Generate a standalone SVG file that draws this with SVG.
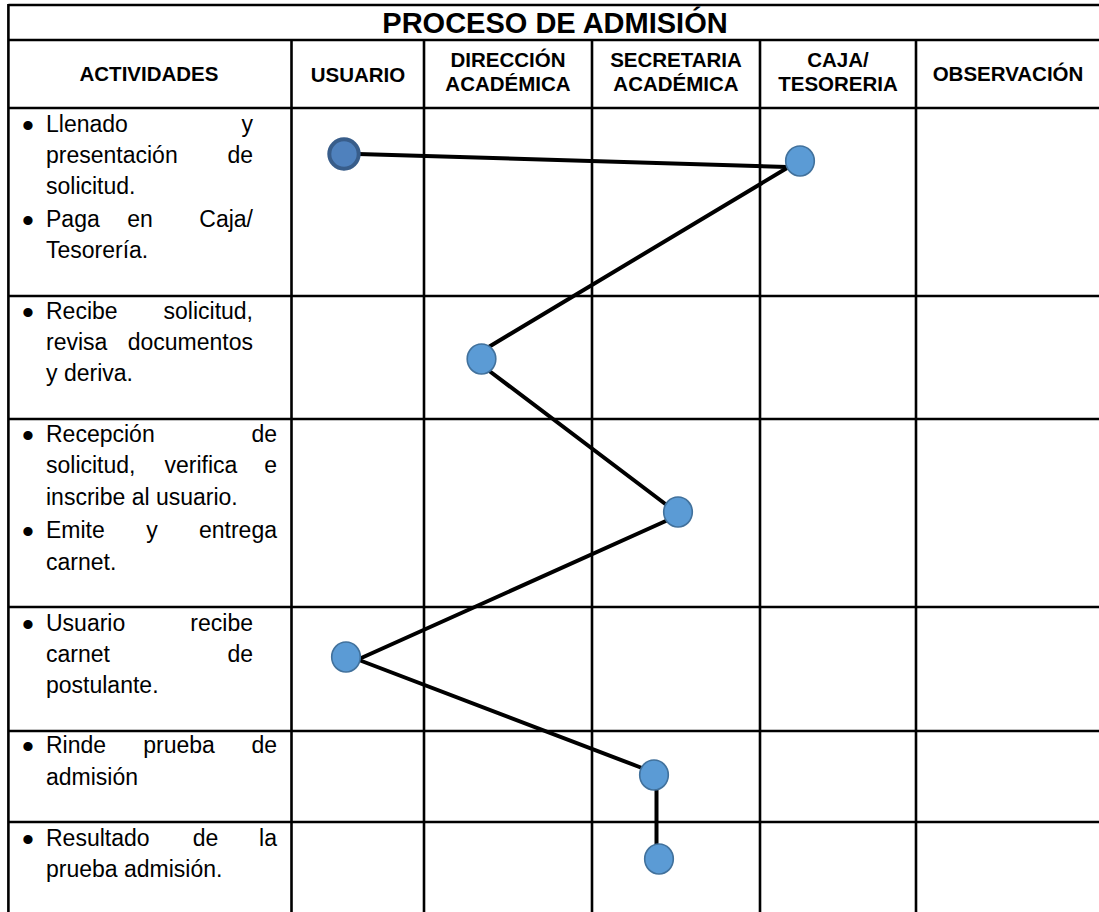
<svg xmlns="http://www.w3.org/2000/svg" width="1099" height="912" viewBox="0 0 1099 912">
<style>
.grid{stroke:#000;stroke-width:2.6;fill:none}
.title{font-family:"Liberation Sans",Arial,sans-serif;font-weight:bold;font-size:29px;fill:#000;text-anchor:middle}
.hd{font-family:"Liberation Sans",Arial,sans-serif;font-weight:bold;font-size:20.5px;fill:#000;text-anchor:middle}
.t{font-family:"Liberation Sans",Arial,sans-serif;font-size:23px;fill:#000}
.e{text-anchor:end}
.m{text-anchor:middle}
.bul{font-family:"Liberation Sans",Arial,sans-serif;font-size:34px;fill:#000;text-anchor:middle}
.conn{stroke:#000;stroke-width:4;fill:none;stroke-linecap:round}
.node{fill:#5B9BD5;stroke:#41719C;stroke-width:1.6}
.start{fill:#4F81BD;stroke:#385D8A;stroke-width:4}
</style>
<rect width="1099" height="912" fill="#fff"/>
<g id="table">
<path class="grid" d="M8.4 5 H1099 M8.4 40 H1099 M8.4 108 H1099 M8.4 296 H1099 M8.4 419 H1099 M8.4 607 H1099 M8.4 731 H1099 M8.4 822 H1099"/>
<path class="grid" d="M8.4 4 V912 M291.5 40 V912 M424 40 V912 M592 40 V912 M760 40 V912 M916 40 V912"/>
</g>
<g id="headers">
<text class="title" x="555" y="33">PROCESO DE ADMISIÓN</text>
<text class="hd" x="149" y="81">ACTIVIDADES</text>
<text class="hd" x="358" y="82">USUARIO</text>
<text class="hd" x="508" y="67">DIRECCIÓN</text>
<text class="hd" x="508" y="91">ACADÉMICA</text>
<text class="hd" x="676" y="67">SECRETARIA</text>
<text class="hd" x="676" y="91">ACADÉMICA</text>
<text class="hd" x="838" y="67">CAJA/</text>
<text class="hd" x="838" y="91">TESORERIA</text>
<text class="hd" x="1008" y="81">OBSERVACIÓN</text>
</g>
<g id="activities">
<text class="bul" x="28" y="137">•</text>
<text class="t" x="46" y="132">Llenado</text><text class="t e" x="253" y="132">y</text>
<text class="t" x="46" y="163">presentación</text><text class="t e" x="253" y="163">de</text>
<text class="t" x="46" y="194">solicitud.</text>
<text class="bul" x="28" y="232">•</text>
<text class="t" x="46" y="227">Paga</text><text class="t m" x="140" y="227">en</text><text class="t e" x="253" y="227">Caja/</text>
<text class="t" x="46" y="258">Tesorería.</text>

<text class="bul" x="28" y="324">•</text>
<text class="t" x="46" y="319">Recibe</text><text class="t e" x="253" y="319">solicitud,</text>
<text class="t" x="46" y="350">revisa</text><text class="t e" x="253" y="350">documentos</text>
<text class="t" x="46" y="381">y deriva.</text>

<text class="bul" x="28" y="447">•</text>
<text class="t" x="46" y="442">Recepción</text><text class="t e" x="277" y="442">de</text>
<text class="t" x="46" y="473">solicitud,</text><text class="t m" x="201" y="473">verifica</text><text class="t e" x="277" y="473">e</text>
<text class="t" x="46" y="505">inscribe al usuario.</text>
<text class="bul" x="28" y="543">•</text>
<text class="t" x="46" y="538">Emite</text><text class="t m" x="152" y="538">y</text><text class="t e" x="277" y="538">entrega</text>
<text class="t" x="46" y="570">carnet.</text>

<text class="bul" x="28" y="636">•</text>
<text class="t" x="46" y="631">Usuario</text><text class="t e" x="253" y="631">recibe</text>
<text class="t" x="46" y="662">carnet</text><text class="t e" x="253" y="662">de</text>
<text class="t" x="46" y="693">postulante.</text>

<text class="bul" x="28" y="758">•</text>
<text class="t" x="46" y="753">Rinde</text><text class="t m" x="179" y="753">prueba</text><text class="t e" x="277" y="753">de</text>
<text class="t" x="46" y="785">admisión</text>

<text class="bul" x="28" y="851">•</text>
<text class="t" x="46" y="846">Resultado</text><text class="t m" x="205.5" y="846">de</text><text class="t e" x="277" y="846">la</text>
<text class="t" x="46" y="877">prueba admisión.</text>
</g>
<g id="connectors">
<line class="conn" x1="358" y1="154" x2="787" y2="167"/>
<line class="conn" x1="787" y1="168" x2="487" y2="348"/>
<line class="conn" x1="488" y1="370" x2="668" y2="506"/>
<line class="conn" x1="668" y1="520" x2="359" y2="659"/>
<line class="conn" x1="359" y1="660" x2="642" y2="768"/>
<line class="conn" x1="656.5" y1="788" x2="656.5" y2="846"/>
</g>
<g id="n1"><circle class="start" cx="344" cy="154" r="14.7"/></g>
<g id="n2"><ellipse class="node" cx="800" cy="161" rx="14.3" ry="15"/></g>
<g id="n3"><ellipse class="node" cx="481.5" cy="359" rx="14.3" ry="15"/></g>
<g id="n4"><ellipse class="node" cx="678" cy="512" rx="14.3" ry="15"/></g>
<g id="n5"><ellipse class="node" cx="346" cy="657" rx="14.3" ry="15"/></g>
<g id="n6"><ellipse class="node" cx="654" cy="775" rx="14.3" ry="15"/></g>
<g id="n7"><ellipse class="node" cx="659" cy="859" rx="14.3" ry="15"/></g>
</svg>
